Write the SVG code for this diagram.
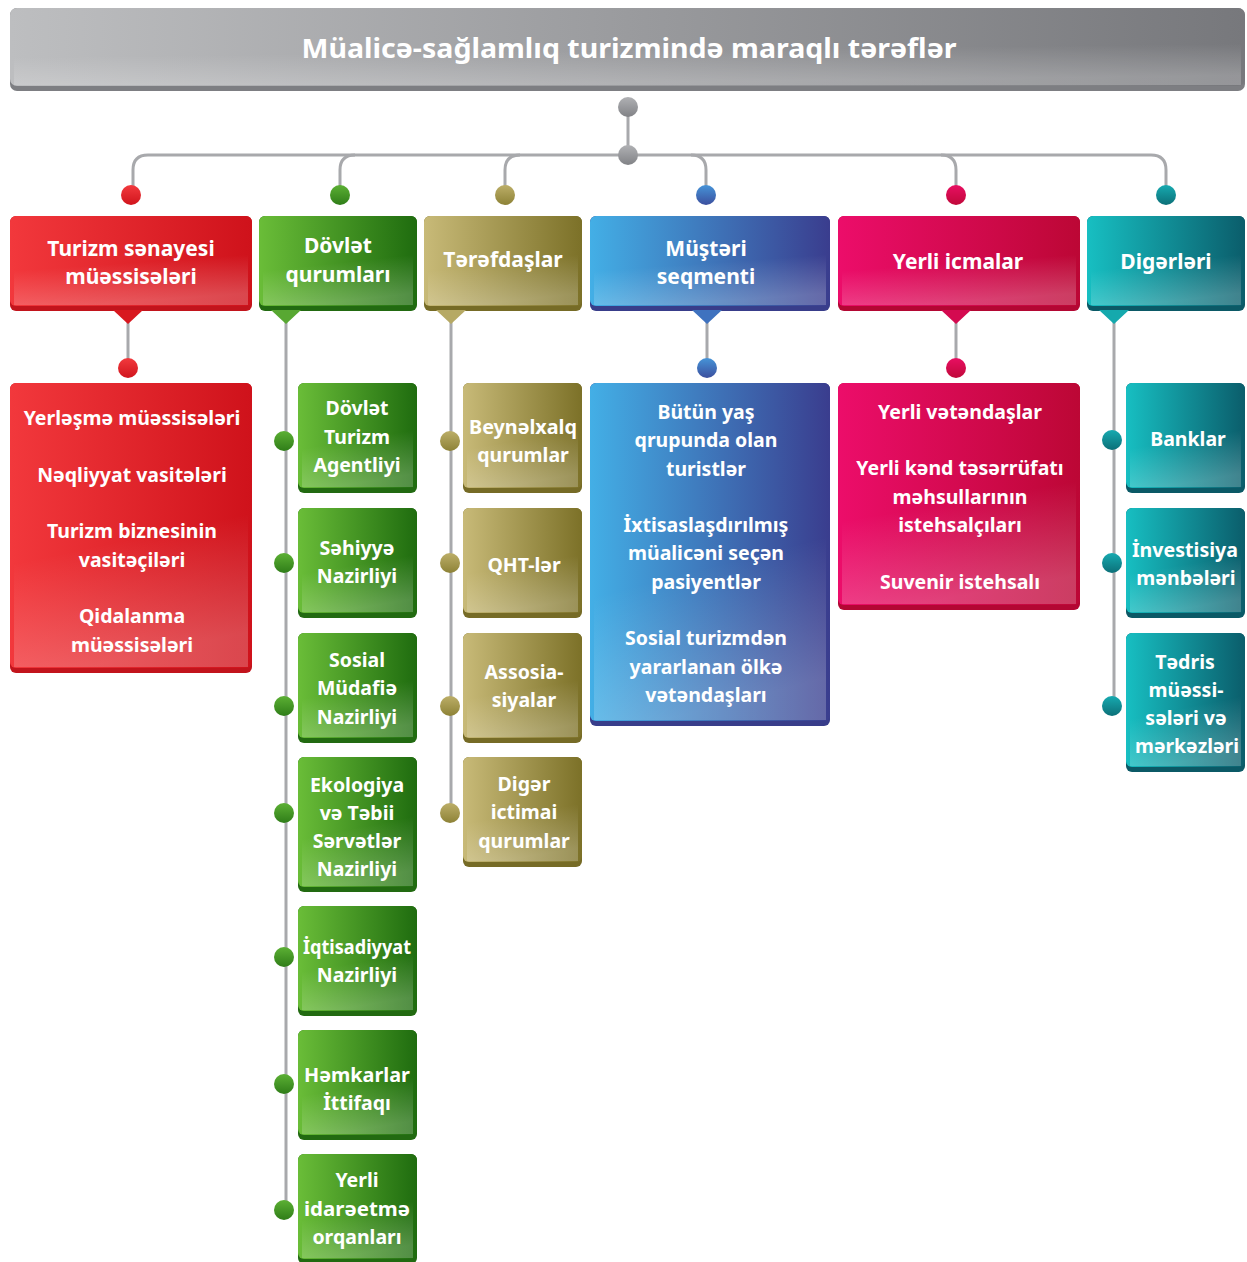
<svg xmlns="http://www.w3.org/2000/svg" width="1247" height="1262" viewBox="0 0 1247 1262">
<defs>
<linearGradient id="gTitle" x1="0" y1="0" x2="1" y2="0"><stop offset="0" stop-color="#bdbec0"/><stop offset="1" stop-color="#77787c"/></linearGradient>
<linearGradient id="gRed" x1="0" y1="0" x2="1" y2="0"><stop offset="0" stop-color="#f2383c"/><stop offset="1" stop-color="#cf121b"/></linearGradient>
<linearGradient id="gGreen" x1="0" y1="0" x2="1" y2="0"><stop offset="0" stop-color="#6abd38"/><stop offset="1" stop-color="#1f6c0f"/></linearGradient>
<linearGradient id="gOlive" x1="0" y1="0" x2="1" y2="0"><stop offset="0" stop-color="#c8ba78"/><stop offset="1" stop-color="#7c7128"/></linearGradient>
<linearGradient id="gBlue" x1="0" y1="0" x2="1" y2="0"><stop offset="0" stop-color="#43afe6"/><stop offset="1" stop-color="#3a3d8e"/></linearGradient>
<linearGradient id="gCrim" x1="0" y1="0" x2="1" y2="0"><stop offset="0" stop-color="#ec0d6a"/><stop offset="1" stop-color="#bc0735"/></linearGradient>
<linearGradient id="gTeal" x1="0" y1="0" x2="1" y2="0"><stop offset="0" stop-color="#17bfc2"/><stop offset="1" stop-color="#0b5d6b"/></linearGradient>
<linearGradient id="shine" x1="0" y1="0" x2="0.3" y2="1"><stop offset="0.35" stop-color="#fff" stop-opacity="0"/><stop offset="1" stop-color="#fff" stop-opacity="0.22"/></linearGradient>
<linearGradient id="dotGrey" x1="0" y1="0" x2="0" y2="1"><stop offset="0" stop-color="#b0b1b4"/><stop offset="1" stop-color="#818286"/></linearGradient>
<linearGradient id="dotRed" x1="0" y1="0" x2="0" y2="1"><stop offset="0" stop-color="#f23a3e"/><stop offset="1" stop-color="#d0141c"/></linearGradient>
<linearGradient id="dotGreen" x1="0" y1="0" x2="0" y2="1"><stop offset="0" stop-color="#5cb034"/><stop offset="1" stop-color="#2f7d18"/></linearGradient>
<linearGradient id="dotOlive" x1="0" y1="0" x2="0" y2="1"><stop offset="0" stop-color="#bcae68"/><stop offset="1" stop-color="#8d8236"/></linearGradient>
<linearGradient id="dotBlue" x1="0" y1="0" x2="0" y2="1"><stop offset="0" stop-color="#4694d8"/><stop offset="1" stop-color="#3b4f9e"/></linearGradient>
<linearGradient id="dotCrim" x1="0" y1="0" x2="0" y2="1"><stop offset="0" stop-color="#e80f62"/><stop offset="1" stop-color="#c0083a"/></linearGradient>
<linearGradient id="dotTeal" x1="0" y1="0" x2="0" y2="1"><stop offset="0" stop-color="#17aab0"/><stop offset="1" stop-color="#0c7078"/></linearGradient>
</defs>
<style>
text{font-family:"Noto Sans","Liberation Sans",sans-serif;font-weight:700;fill:#fff;text-anchor:middle}
.t{font-size:27px}
.h{font-size:21px}
.s{font-size:19.5px}
.ln{fill:none;stroke:#a8a9ac;stroke-width:3}
.sh{fill:url(#shine)}
</style>

<g id="title">
<rect x="10" y="8" width="1235" height="83" rx="7" fill="#7d7e82"/>
<rect x="10" y="8" width="1235" height="78" rx="7" fill="url(#gTitle)"/>
<rect x="14" y="40" width="1227" height="45" class="sh"/>
<text class="t" x="629" y="58" textLength="655" lengthAdjust="spacingAndGlyphs">Müalicə-sağlamlıq turizmində maraqlı tərəflər</text>
</g>

<g id="connectors">
<path class="ln" d="M628,107 V155"/>
<path class="ln" d="M133,190 V170 Q133,155 148,155 H1151 Q1166,155 1166,170 V190"/>
<path class="ln" d="M340,190 V170 Q340,155 355,155"/>
<path class="ln" d="M505,190 V170 Q505,155 520,155"/>
<path class="ln" d="M706,190 V170 Q706,155 691,155"/>
<path class="ln" d="M956,190 V170 Q956,155 941,155"/>
<path class="ln" d="M128,320 V360"/>
<path class="ln" d="M707,320 V360"/>
<path class="ln" d="M956,320 V360"/>
<path class="ln" d="M286,320 V1210"/>
<path class="ln" d="M451,320 V813"/>
<path class="ln" d="M1114,320 V706"/>
<circle cx="628" cy="107" r="10" fill="url(#dotGrey)"/>
<circle cx="628" cy="155" r="10" fill="url(#dotGrey)"/>
<circle cx="131" cy="195" r="10" fill="url(#dotRed)"/>
<circle cx="340" cy="195" r="10" fill="url(#dotGreen)"/>
<circle cx="505" cy="195" r="10" fill="url(#dotOlive)"/>
<circle cx="706" cy="195" r="10" fill="url(#dotBlue)"/>
<circle cx="956" cy="195" r="10" fill="url(#dotCrim)"/>
<circle cx="1166" cy="195" r="10" fill="url(#dotTeal)"/>
<circle cx="128" cy="368" r="10" fill="url(#dotRed)"/>
<circle cx="707" cy="368" r="10" fill="url(#dotBlue)"/>
<circle cx="956" cy="368" r="10" fill="url(#dotCrim)"/>
<g fill="url(#dotGreen)">
<circle cx="284" cy="441" r="10"/><circle cx="284" cy="563" r="10"/><circle cx="284" cy="706" r="10"/><circle cx="284" cy="813" r="10"/><circle cx="284" cy="957" r="10"/><circle cx="284" cy="1084" r="10"/><circle cx="284" cy="1210" r="10"/>
</g>
<g fill="url(#dotOlive)">
<circle cx="450" cy="441" r="10"/><circle cx="450" cy="563" r="10"/><circle cx="450" cy="706" r="10"/><circle cx="450" cy="813" r="10"/>
</g>
<g fill="url(#dotTeal)">
<circle cx="1112" cy="440" r="10"/><circle cx="1112" cy="563" r="10"/><circle cx="1112" cy="706" r="10"/>
</g>
</g>

<g id="h-turizm">
<rect x="10" y="216" width="242" height="95" rx="6" fill="#c2141c"/>
<rect x="10" y="216" width="242" height="90" rx="6" fill="url(#gRed)"/>
<rect x="14" y="250" width="234" height="55" class="sh"/>
<polygon points="113,310 143,310 128,324" fill="#d8181f"/>
<text class="h" x="131" y="256">Turizm sənayesi</text>
<text class="h" x="131" y="284">müəssisələri</text>
</g>
<g id="h-dovlet">
<rect x="259" y="216" width="158" height="95" rx="6" fill="#226a11"/>
<rect x="259" y="216" width="158" height="90" rx="6" fill="url(#gGreen)"/>
<rect x="263" y="250" width="150" height="55" class="sh"/>
<polygon points="271,310 301,310 286,324" fill="#58a832"/>
<text class="h" x="338" y="253">Dövlət</text>
<text class="h" x="338" y="282">qurumları</text>
</g>
<g id="h-teref">
<rect x="424" y="216" width="158" height="95" rx="6" fill="#766b26"/>
<rect x="424" y="216" width="158" height="90" rx="6" fill="url(#gOlive)"/>
<rect x="428" y="250" width="150" height="55" class="sh"/>
<polygon points="436,310 466,310 451,324" fill="#b6a964"/>
<text class="h" x="503" y="267">Tərəfdaşlar</text>
</g>
<g id="h-musteri">
<rect x="590" y="216" width="240" height="95" rx="6" fill="#383d8a"/>
<rect x="590" y="216" width="240" height="90" rx="6" fill="url(#gBlue)"/>
<rect x="594" y="250" width="232" height="55" class="sh"/>
<polygon points="692,310 722,310 707,324" fill="#3f72bf"/>
<text class="h" x="706" y="256">Müştəri</text>
<text class="h" x="706" y="284">seqmenti</text>
</g>
<g id="h-yerli">
<rect x="838" y="216" width="242" height="95" rx="6" fill="#b30733"/>
<rect x="838" y="216" width="242" height="90" rx="6" fill="url(#gCrim)"/>
<rect x="842" y="250" width="234" height="55" class="sh"/>
<polygon points="941,310 971,310 956,324" fill="#d40a50"/>
<text class="h" x="958" y="269">Yerli icmalar</text>
</g>
<g id="h-diger">
<rect x="1087" y="216" width="158" height="95" rx="6" fill="#0b5966"/>
<rect x="1087" y="216" width="158" height="90" rx="6" fill="url(#gTeal)"/>
<rect x="1091" y="250" width="150" height="55" class="sh"/>
<polygon points="1099,310 1129,310 1114,324" fill="#15a9ad"/>
<text class="h" x="1166" y="269">Digərləri</text>
</g>

<g id="b-turizm">
<rect x="10" y="383" width="242" height="290" rx="6" fill="#c2141c"/>
<rect x="10" y="383" width="242" height="285" rx="6" fill="url(#gRed)"/>
<rect x="14" y="500" width="234" height="167" class="sh"/>
<text class="s" x="132" y="425">Yerləşmə müəssisələri</text>
<text class="s" x="132" y="482">Nəqliyyat vasitələri</text>
<text class="s" x="132" y="538">Turizm biznesinin</text>
<text class="s" x="132" y="567">vasitəçiləri</text>
<text class="s" x="132" y="623">Qidalanma</text>
<text class="s" x="132" y="652">müəssisələri</text>
</g>

<g id="b-musteri">
<rect x="590" y="383" width="240" height="343" rx="6" fill="#383d8a"/>
<rect x="590" y="383" width="240" height="338" rx="6" fill="url(#gBlue)"/>
<rect x="594" y="520" width="232" height="200" class="sh"/>
<text class="s" x="706" y="419">Bütün yaş</text>
<text class="s" x="706" y="447">qrupunda olan</text>
<text class="s" x="706" y="476">turistlər</text>
<text class="s" x="706" y="532">İxtisaslaşdırılmış</text>
<text class="s" x="706" y="560">müalicəni seçən</text>
<text class="s" x="706" y="589">pasiyentlər</text>
<text class="s" x="706" y="645">Sosial turizmdən</text>
<text class="s" x="706" y="674">yararlanan ölkə</text>
<text class="s" x="706" y="702">vətəndaşları</text>
</g>

<g id="b-yerli">
<rect x="838" y="383" width="242" height="227" rx="6" fill="#b30733"/>
<rect x="838" y="383" width="242" height="222" rx="6" fill="url(#gCrim)"/>
<rect x="842" y="470" width="234" height="134" class="sh"/>
<text class="s" x="960" y="419">Yerli vətəndaşlar</text>
<text class="s" x="960" y="475">Yerli kənd təsərrüfatı</text>
<text class="s" x="960" y="504">məhsullarının</text>
<text class="s" x="960" y="532">istehsalçıları</text>
<text class="s" x="960" y="589">Suvenir istehsalı</text>
</g>

<g id="g1">
<rect x="298" y="383" width="119" height="110" rx="6" fill="#226a11"/>
<rect x="298" y="383" width="119" height="105" rx="6" fill="url(#gGreen)"/>
<rect x="302" y="425" width="111" height="62" class="sh"/>
<text class="s" x="357" y="415">Dövlət</text><text class="s" x="357" y="444">Turizm</text><text class="s" x="357" y="472">Agentliyi</text>
</g>
<g id="g2">
<rect x="298" y="508" width="119" height="110" rx="6" fill="#226a11"/>
<rect x="298" y="508" width="119" height="105" rx="6" fill="url(#gGreen)"/>
<rect x="302" y="550" width="111" height="62" class="sh"/>
<text class="s" x="357" y="555">Səhiyyə</text><text class="s" x="357" y="583">Nazirliyi</text>
</g>
<g id="g3">
<rect x="298" y="633" width="119" height="110" rx="6" fill="#226a11"/>
<rect x="298" y="633" width="119" height="105" rx="6" fill="url(#gGreen)"/>
<rect x="302" y="675" width="111" height="62" class="sh"/>
<text class="s" x="357" y="667">Sosial</text><text class="s" x="357" y="695">Müdafiə</text><text class="s" x="357" y="724">Nazirliyi</text>
</g>
<g id="g4">
<rect x="298" y="757" width="119" height="135" rx="6" fill="#226a11"/>
<rect x="298" y="757" width="119" height="130" rx="6" fill="url(#gGreen)"/>
<rect x="302" y="810" width="111" height="76" class="sh"/>
<text class="s" x="357" y="792">Ekologiya</text><text class="s" x="357" y="820">və Təbii</text><text class="s" x="357" y="848">Sərvətlər</text><text class="s" x="357" y="876">Nazirliyi</text>
</g>
<g id="g5">
<rect x="298" y="906" width="119" height="110" rx="6" fill="#226a11"/>
<rect x="298" y="906" width="119" height="105" rx="6" fill="url(#gGreen)"/>
<rect x="302" y="948" width="111" height="62" class="sh"/>
<text class="s" x="357" y="954" textLength="108" lengthAdjust="spacingAndGlyphs">İqtisadiyyat</text><text class="s" x="357" y="982">Nazirliyi</text>
</g>
<g id="g6">
<rect x="298" y="1030" width="119" height="110" rx="6" fill="#226a11"/>
<rect x="298" y="1030" width="119" height="105" rx="6" fill="url(#gGreen)"/>
<rect x="302" y="1072" width="111" height="62" class="sh"/>
<text class="s" x="357" y="1082" textLength="106" lengthAdjust="spacingAndGlyphs">Həmkarlar</text><text class="s" x="357" y="1110">İttifaqı</text>
</g>
<g id="g7">
<rect x="298" y="1154" width="119" height="110" rx="6" fill="#226a11"/>
<rect x="298" y="1154" width="119" height="105" rx="6" fill="url(#gGreen)"/>
<rect x="302" y="1196" width="111" height="62" class="sh"/>
<text class="s" x="357" y="1187">Yerli</text><text class="s" x="357" y="1216" textLength="106" lengthAdjust="spacingAndGlyphs">idarəetmə</text><text class="s" x="357" y="1244">orqanları</text>
</g>

<g id="o1">
<rect x="463" y="383" width="119" height="110" rx="6" fill="#766b26"/>
<rect x="463" y="383" width="119" height="105" rx="6" fill="url(#gOlive)"/>
<rect x="467" y="425" width="111" height="62" class="sh"/>
<text class="s" x="523" y="434" textLength="108" lengthAdjust="spacingAndGlyphs">Beynəlxalq</text><text class="s" x="523" y="462">qurumlar</text>
</g>
<g id="o2">
<rect x="463" y="508" width="119" height="110" rx="6" fill="#766b26"/>
<rect x="463" y="508" width="119" height="105" rx="6" fill="url(#gOlive)"/>
<rect x="467" y="550" width="111" height="62" class="sh"/>
<text class="s" x="524" y="572">QHT-lər</text>
</g>
<g id="o3">
<rect x="463" y="633" width="119" height="110" rx="6" fill="#766b26"/>
<rect x="463" y="633" width="119" height="105" rx="6" fill="url(#gOlive)"/>
<rect x="467" y="675" width="111" height="62" class="sh"/>
<text class="s" x="524" y="679">Assosia-</text><text class="s" x="524" y="707">siyalar</text>
</g>
<g id="o4">
<rect x="463" y="757" width="119" height="110" rx="6" fill="#766b26"/>
<rect x="463" y="757" width="119" height="105" rx="6" fill="url(#gOlive)"/>
<rect x="467" y="799" width="111" height="62" class="sh"/>
<text class="s" x="524" y="791">Digər</text><text class="s" x="524" y="819">ictimai</text><text class="s" x="524" y="848">qurumlar</text>
</g>

<g id="t1">
<rect x="1126" y="383" width="119" height="110" rx="6" fill="#0b5966"/>
<rect x="1126" y="383" width="119" height="105" rx="6" fill="url(#gTeal)"/>
<rect x="1130" y="425" width="111" height="62" class="sh"/>
<text class="s" x="1188" y="446">Banklar</text>
</g>
<g id="t2">
<rect x="1126" y="508" width="119" height="110" rx="6" fill="#0b5966"/>
<rect x="1126" y="508" width="119" height="105" rx="6" fill="url(#gTeal)"/>
<rect x="1130" y="550" width="111" height="62" class="sh"/>
<text class="s" x="1185" y="557" textLength="106" lengthAdjust="spacingAndGlyphs">İnvestisiya</text><text class="s" x="1186" y="585">mənbələri</text>
</g>
<g id="t3">
<rect x="1126" y="633" width="119" height="139" rx="6" fill="#0b5966"/>
<rect x="1126" y="633" width="119" height="134" rx="6" fill="url(#gTeal)"/>
<rect x="1130" y="690" width="111" height="76" class="sh"/>
<text class="s" x="1185" y="669">Tədris</text><text class="s" x="1186" y="697">müəssi-</text><text class="s" x="1186" y="725">sələri və</text><text class="s" x="1187" y="753" textLength="104" lengthAdjust="spacingAndGlyphs">mərkəzləri</text>
</g>
</svg>
